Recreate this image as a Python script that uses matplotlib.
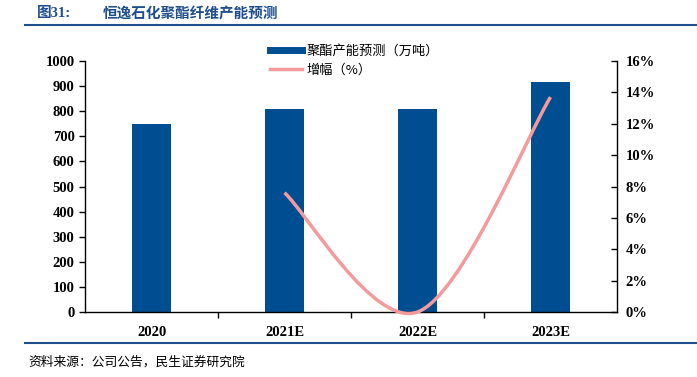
import matplotlib.pyplot as plt
import numpy as np
from matplotlib.path import Path
from matplotlib.patches import PathPatch
from matplotlib.lines import Line2D
from matplotlib.ticker import FuncFormatter

plt.rcParams['font.family'] = ['Liberation Serif', 'Noto Sans CJK SC']

categories = ['2020', '2021E', '2022E', '2023E']
capacity = [750, 808, 808, 918]          # 聚酯产能预测（万吨）
growth_x = ['2021E', '2022E', '2023E']
growth = [7.6, 0.0, 13.7]                # 增幅（%）

blue = '#004E92'
pink = '#F59A9C'
title_blue = '#1F4E8C'

fig = plt.figure(figsize=(6.97, 3.77), dpi=100)
ax = fig.add_axes([85/697, 1 - 312/377, (617-85)/697, (312-61)/377])
x = np.arange(len(categories))
ax.bar(x, capacity, width=0.3, color=blue, zorder=2)
ax.set_xlim(-0.5, len(categories) - 0.5)
ax.set_ylim(0, 1000)
ax.set_yticks(range(0, 1001, 100))
ax.set_xticks(x)
ax.set_xticklabels(categories, fontweight='bold', fontsize=10.5)
ax.set_xticks(np.arange(0.5, len(categories) - 0.5, 1), minor=True)
ax.tick_params(axis='x', which='major', length=0, pad=10)
ax.tick_params(axis='x', which='minor', length=4, direction='out', width=1)
ax.tick_params(axis='y', length=4, direction='out', width=1, labelsize=10.5)
for lab in ax.get_yticklabels():
    lab.set_fontweight('bold')
for s in ['top', 'right']:
    ax.spines[s].set_visible(False)
for s in ['left', 'bottom']:
    ax.spines[s].set_linewidth(1)

ax2 = ax.twinx()
ax2.set_ylim(0, 16)
ax2.set_yticks(range(0, 17, 2))
ax2.yaxis.set_major_formatter(FuncFormatter(lambda v, p: f'{int(v)}%'))
ax2.tick_params(axis='y', length=4, direction='in', width=1, labelsize=10.5, pad=6)
for lab in ax2.get_yticklabels():
    lab.set_fontweight('bold')
for s in ['top', 'left', 'bottom']:
    ax2.spines[s].set_visible(False)
ax2.spines['right'].set_linewidth(1)

# smoothed line (bezier through the points, like a spreadsheet smooth line)
gx = np.array([categories.index(c) for c in growth_x], dtype=float)
gy = np.array(growth, dtype=float)
pts = np.column_stack([gx, gy])
verts = [pts[0]]
codes = [Path.MOVETO]
n = len(pts)
for i in range(n - 1):
    p0 = pts[i - 1] if i > 0 else pts[i]
    p1, p2 = pts[i], pts[i + 1]
    p3 = pts[i + 2] if i + 2 < n else pts[i + 1]
    c1 = p1 + (p2 - p0) / 6
    c2 = p2 - (p3 - p1) / 6
    verts += [c1, c2, p2]
    codes += [Path.CURVE4] * 3
ax2.add_patch(PathPatch(Path(verts, codes), facecolor='none', edgecolor=pink,
                        lw=2.5, zorder=3, clip_on=False))

handles = [Line2D([], [], color=blue, lw=5), Line2D([], [], color=pink, lw=2.5)]
fig.legend(handles, ['聚酯产能预测（万吨）', '增幅（%）'], loc='upper left',
           bbox_to_anchor=(258/697, 1 - 33/377), frameon=False,
           prop={'family': 'Noto Sans CJK SC', 'size': 9.5}, handlelength=2.4,
           labelspacing=0.45, handletextpad=0.4)

fig.text(37/697, 1 - 14/377, '图31:', fontsize=10.5, fontweight='bold',
         color=title_blue, va='center', family=['Liberation Serif', 'Noto Sans CJK SC'])
fig.text(103/697, 1 - 14/377, '恒逸石化聚酯纤维产能预测', fontsize=10.5, fontweight='bold',
         color=title_blue, va='center', family='Noto Sans CJK SC')
fig.add_artist(Line2D([25/697, 1], [1 - 25/377] * 2, color=title_blue, lw=1.5))
fig.add_artist(Line2D([25/697, 1], [1 - 343/377] * 2, color=title_blue, lw=1.5))
fig.text(28/697, 1 - 362/377, '资料来源：公司公告，民生证券研究院', fontsize=9.2,
         va='center', family='Noto Sans CJK SC')

fig.savefig('out.png', dpi=100)
